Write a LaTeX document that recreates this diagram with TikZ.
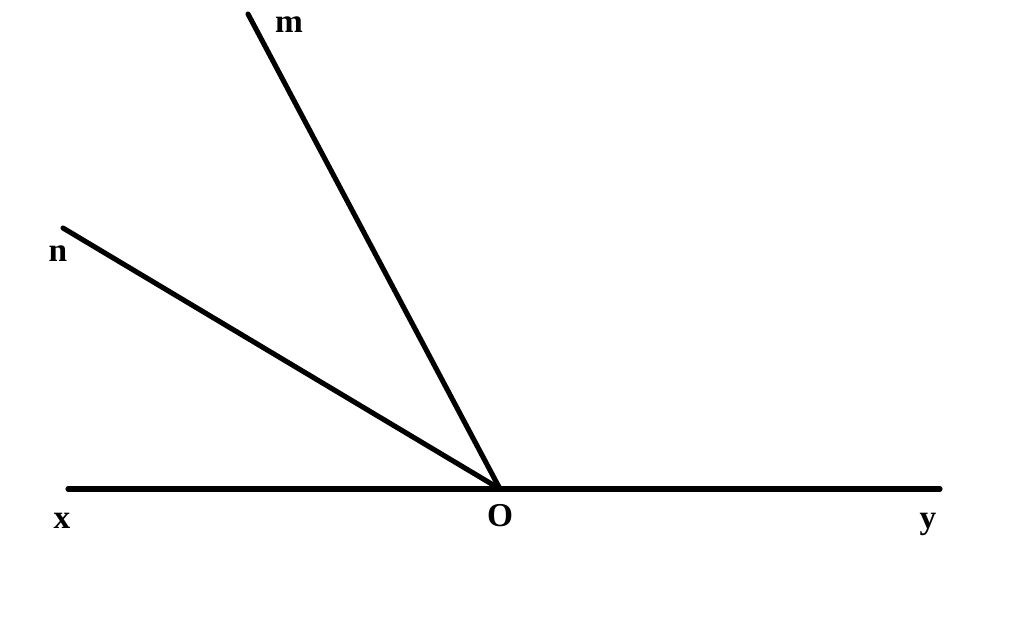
\documentclass[tikz,border=0pt]{standalone}
\usepackage{fontspec}
\setmainfont{Liberation Serif}
\begin{document}
\begin{tikzpicture}[x=0.02cm,y=-0.02cm,
  ray/.style={line width=2.9pt,line cap=round},
  lbl/.style={font=\fontsize{19}{22}\selectfont\bfseries,anchor=base,inner sep=0pt}]
\useasboundingbox[fill=white] (0,0) rectangle (1024,644);
\coordinate (O) at (500,489);
\coordinate (X) at (68,489);
\coordinate (Y) at (940,489);
\coordinate (M) at (248,14);
\coordinate (N) at (63,228);
\draw[ray] (X) -- (Y);
\draw[ray] (O) -- (M);
\draw[ray] (O) -- (N);
\node[lbl] (lm) at (289,33) {m};
\node[lbl] (ln) at (58,262) {n};
\node[lbl] (lx) at (62,529) {x};
\node[lbl] (lO) at (500,527) {O};
\node[lbl] (ly) at (928,529) {y};
\end{tikzpicture}
\end{document}
